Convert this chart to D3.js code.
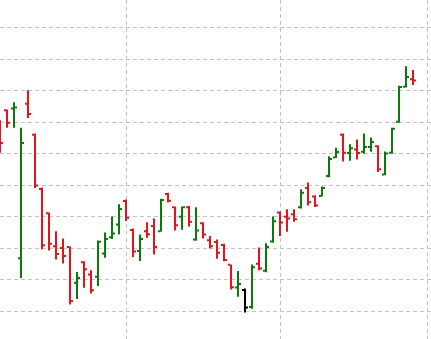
<!DOCTYPE html>
<html lang="en">
  <head>
    <meta charset="utf-8" />
    <title>OHLC</title>
    <style>
      body {
        margin: 0;
        background: #fff;
      }
      .grid line {
        stroke: #c4c4c4;
        stroke-width: 1;
        stroke-dasharray: 4, 3;
        shape-rendering: crispEdges;
      }
    </style>
    <script src="https://cdn.jsdelivr.net/npm/d3@7"></script>
  </head>

  <body>
    <svg width="431" height="339"></svg>

    <script>
      // daily prices, one entry per trading day
      var open = [15.97, 16.38, 16.43, 11.69, 16.58, 15.60, 13.88, 13.11, 12.07, 12.01,
        12.04, 10.91, 11.56, 11.17, 11.10, 11.84, 12.35, 12.76, 13.50, 12.58,
        11.92, 12.54, 12.71, 12.54, 13.72, 13.30, 13.00, 13.30, 12.28, 12.80,
        12.26, 12.20, 12.11, 11.48, 10.76, 10.68, 10.14, 11.51, 11.29, 12.22,
        13.14, 13.00, 13.08, 13.30, 13.91, 13.64, 13.66, 14.29, 14.88, 15.60,
        15.02, 15.13, 15.06, 15.21, 15.24, 14.34, 15.03, 16.01, 17.12, 17.36];
      var high = [16.06, 16.40, 16.63, 15.82, 17.01, 15.64, 13.93, 13.14, 12.54, 12.31,
        12.06, 11.25, 11.59, 11.31, 12.25, 12.50, 13.01, 13.40, 13.55, 12.63,
        12.44, 12.83, 12.95, 13.57, 13.76, 13.33, 13.33, 13.34, 13.30, 12.83,
        12.39, 12.28, 12.15, 11.49, 11.28, 10.73, 11.49, 12.03, 12.16, 13.01,
        13.17, 13.24, 13.24, 13.87, 14.09, 13.68, 13.96, 14.92, 15.19, 15.64,
        15.30, 15.45, 15.64, 15.51, 15.27, 15.07, 15.82, 17.15, 17.77, 17.65];
      var low = [15.03, 15.82, 15.82, 11.06, 16.13, 13.91, 11.97, 11.93, 11.65, 11.52,
        10.22, 10.40, 10.75, 10.57, 10.81, 11.70, 12.30, 12.44, 12.87, 11.73,
        11.60, 12.34, 11.81, 12.53, 13.45, 12.57, 12.59, 12.69, 12.24, 12.31,
        12.00, 11.67, 11.59, 10.70, 10.47, 9.97, 10.09, 11.31, 11.24, 12.18,
        12.39, 12.53, 12.84, 13.26, 13.36, 13.31, 13.64, 14.25, 14.86, 14.75,
        14.78, 14.82, 15.00, 15.06, 14.42, 14.32, 15.00, 15.98, 17.10, 17.18];
      var close = [15.34, 15.98, 16.46, 15.34, 16.26, 13.99, 12.10, 12.15, 11.82, 11.76,
        10.33, 11.06, 11.34, 10.67, 12.21, 12.30, 12.47, 13.25, 12.97, 11.90,
        12.30, 12.45, 12.04, 13.53, 13.51, 12.73, 13.30, 12.84, 12.57, 12.44,
        12.07, 11.86, 11.63, 10.77, 10.87, 10.13, 11.40, 11.36, 12.04, 12.86,
        12.82, 12.95, 12.92, 13.76, 13.46, 13.36, 13.91, 14.83, 15.05, 15.03,
        15.17, 15.02, 15.21, 15.37, 14.51, 15.01, 15.79, 17.11, 17.43, 17.32];

      // price gridlines and day indexes where a new month starts
      var priceTicks = [10, 11, 12, 13, 14, 15, 16, 17, 18, 19];
      var monthStarts = [18, 40, 61];

      var svg = d3.select("svg"),
        width = +svg.attr("width"),
        height = +svg.attr("height");

      var data = open.map((o, i) => ({
        i: i,
        open: o,
        high: high[i],
        low: low[i],
        close: close[i],
      }));

      var x = d3.scaleLinear().domain([0, 59]).range([0, 413]);
      var y = d3.scaleLinear().domain([10, 19]).range([311.5, 27.46]);

      // lowest bar of the period is drawn in black
      var lowest = d3.minIndex(low);
      var color = (d) => {
        if (d.i === lowest) return "#000";
        return d.close >= d.open ? "#0b7a0b" : "#e3141b";
      };

      // grid
      var grid = svg.append("g").attr("class", "grid");
      grid
        .selectAll(".h")
        .data(priceTicks)
        .enter()
        .append("line")
        .attr("x1", 0)
        .attr("x2", width)
        .attr("y1", (d) => Math.floor(y(d)) + 0.5)
        .attr("y2", (d) => Math.floor(y(d)) + 0.5);
      grid
        .selectAll(".v")
        .data(monthStarts)
        .enter()
        .append("line")
        .attr("y1", 0)
        .attr("y2", height)
        .attr("x1", (d) => x(d) + 0.5)
        .attr("x2", (d) => x(d) + 0.5);

      // OHLC bars
      var bars = svg
        .append("g")
        .selectAll("g")
        .data(data)
        .enter()
        .append("g")
        .attr("stroke", color)
        .attr("stroke-width", 2);

      bars
        .append("line")
        .attr("x1", (d) => x(d.i))
        .attr("x2", (d) => x(d.i))
        .attr("y1", (d) => y(d.high))
        .attr("y2", (d) => y(d.low));

      bars
        .append("line")
        .attr("x1", (d) => x(d.i) - 3)
        .attr("x2", (d) => x(d.i) - 1)
        .attr("y1", (d) => y(d.open))
        .attr("y2", (d) => y(d.open));

      bars
        .append("line")
        .attr("x1", (d) => x(d.i) + 1)
        .attr("x2", (d) => x(d.i) + 3)
        .attr("y1", (d) => y(d.close))
        .attr("y2", (d) => y(d.close));
    </script>
  </body>
</html>
